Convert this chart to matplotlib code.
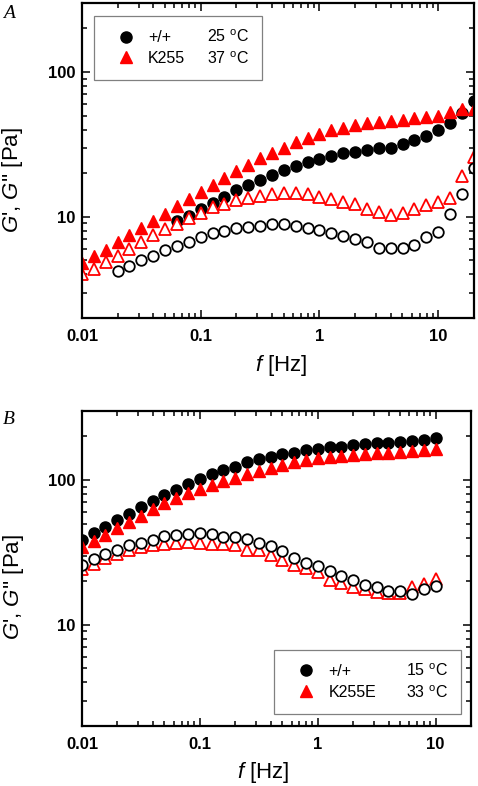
import matplotlib
matplotlib.use("Agg")
import matplotlib.pyplot as plt
from matplotlib.lines import Line2D
from matplotlib.ticker import LogLocator, NullFormatter

plt.rcParams['font.family'] = ['Liberation Sans', 'DejaVu Sans']
plt.rcParams['mathtext.fontset'] = 'custom'
plt.rcParams['mathtext.rm'] = 'Liberation Sans'
plt.rcParams['mathtext.it'] = 'Liberation Sans:italic'

# frequencies (Hz), 10 points per decade
freq = [0.01, 0.0126, 0.0158, 0.02, 0.0251, 0.0316, 0.0398, 0.0501, 0.0631, 0.0794,
        0.1, 0.126, 0.158, 0.2, 0.251, 0.316, 0.398, 0.501, 0.631, 0.794,
        1.0, 1.26, 1.58, 2.0, 2.51, 3.16, 3.98, 5.01, 6.31, 7.94,
        10.0, 12.6, 15.8, 19.95]

# panel A: +/+ at 25 C, K255 at 37 C
a_wt_g1 = [9.4, 10.2, 11.3, 12.4, 13.7, 15.4, 16.6, 18.0, 19.4, 21.0, 22.5, 23.8, 25.1,
           26.4, 27.5, 28.1, 29.0, 29.7, 30.1, 31.8, 33.9, 35.9, 39.7, 44.2, 51.9, 63.4]
a_wt_g2 = [4.24, 4.6, 5.05, 5.4, 5.9, 6.3, 6.7, 7.2, 7.7, 8.0, 8.4, 8.5, 8.7, 8.9, 8.9, 8.7,
           8.4, 8.1, 7.7, 7.35, 7.0, 6.65, 6.1, 6.1, 6.1, 6.4, 7.2, 7.9, 10.4, 14.4, 21.9]
a_mut_g1 = [4.8, 5.4, 5.9, 6.7, 7.5, 8.4, 9.4, 10.4, 11.8, 13.2, 14.9, 16.6, 18.6, 20.6,
            22.8, 25.3, 27.5, 30.1, 32.7, 35.1, 37.3, 39.7, 41.2, 42.8, 44.2, 45.4, 46.1,
            46.9, 48.0, 48.7, 49.9, 52.6, 55.5, 56.0]
a_mut_g2 = [4.0, 4.35, 4.9, 5.4, 6.0, 6.7, 7.5, 8.3, 8.9, 9.8, 10.7, 11.6, 12.3, 13.0,
            13.4, 14.0, 14.4, 14.6, 14.6, 14.4, 13.8, 13.3, 12.7, 12.2, 11.4, 10.8, 10.3,
            10.7, 11.3, 12.1, 12.7, 13.4, 19.2, 25.7]

# panel B: +/+ at 15 C, K255E at 33 C
b_wt_g1 = [38.8, 43.2, 47.5, 52.8, 58.1, 64.7, 71.9, 78.8, 85.3, 93.4, 101, 110, 117, 124,
           133, 139, 145, 151, 155, 161, 164, 169, 170, 174, 177, 180, 181, 183, 186, 189, 194]
b_wt_g2 = [26.0, 28.4, 30.7, 32.7, 35.5, 37.0, 38.8, 41.1, 41.6, 42.3, 43.2, 42.3, 40.5, 40.5,
           39.2, 36.6, 35.2, 32.4, 29.1, 26.8, 25.4, 23.6, 21.6, 20.4, 18.7, 18.3, 17.2, 17.2,
           16.4, 17.8, 18.5]
b_mut_g1 = [34.5, 37.8, 41.6, 46.7, 51.4, 56.3, 62.7, 69, 74.7, 80.9, 87.1, 91.9, 98.9, 104,
            110, 116, 122, 127, 134, 138, 141, 144, 147, 149, 151, 153, 155, 157, 159, 161, 165]
b_mut_g2 = [24.5, 26.5, 29.1, 30.7, 33.1, 34.5, 35.8, 36.4, 36.8, 37.4, 36.8, 36.4, 36.0, 35.6,
            33.0, 32.7, 30.4, 28.0, 26.0, 24.6, 23.0, 20.3, 19.6, 18.2, 17.6, 16.8, 16.6, 16.6,
            18.2, 19.2, 20.8]

panels = [
    {"letter": "A", "rect": [0.1715, 0.5954, 0.820, 0.4008],
     "wt_g1": (freq[8:], a_wt_g1), "wt_g2": (freq[3:], a_wt_g2),
     "mut_g1": (freq, a_mut_g1), "mut_g2": (freq, a_mut_g2),
     "labels": ["+/+", "K255", "25 $^{\\mathrm{o}}$C", "37 $^{\\mathrm{o}}$C"],
     "leg_loc": "upper left", "leg_anchor": (0.031, 0.959), "colspace": -1.2,
     "ylab": (-0.145, 0.438), "xlab": (0.508, -0.111), "letter_y": 1 - 5 / 786},
    {"letter": "B", "rect": [0.1715, 0.0763, 0.814, 0.4008],
     "wt_g1": (freq[:31], b_wt_g1), "wt_g2": (freq[:31], b_wt_g2),
     "mut_g1": (freq[:31], b_mut_g1), "mut_g2": (freq[:31], b_mut_g2),
     "labels": ["+/+", "K255E", "15 $^{\\mathrm{o}}$C", "33 $^{\\mathrm{o}}$C"],
     "leg_loc": "lower right", "leg_anchor": (0.974, 0.038), "colspace": -0.7,
     "ylab": (-0.145, 0.441), "xlab": (0.465, -0.108), "letter_y": 1 - 411 / 786},
]

fig = plt.figure(figsize=(4.78, 7.86), dpi=100)

for p in panels:
    ax = fig.add_axes(p["rect"])
    ax.plot(*p["wt_g1"], linestyle='none', marker='o', ms=8, color='k', mec='k')
    ax.plot(*p["mut_g1"], linestyle='none', marker='^', ms=8.5, color='red', mec='red')
    ax.plot(*p["mut_g2"], linestyle='none', marker='^', ms=8.5, mfc='white', mec='red', mew=1.3)
    ax.plot(*p["wt_g2"], linestyle='none', marker='o', ms=7.6, mfc='white', mec='k', mew=1.3)

    ax.set_xscale('log')
    ax.set_yscale('log')
    ax.set_xlim(0.01, 20)
    ax.set_ylim(2, 300)
    ax.set_xticks([0.01, 0.1, 1, 10], ['0.01', '0.1', '1', '10'])
    ax.set_yticks([10, 100], ['10', '100'])
    ax.xaxis.set_minor_locator(LogLocator(base=10, subs=range(2, 10)))
    ax.yaxis.set_minor_locator(LogLocator(base=10, subs=range(2, 10)))
    ax.xaxis.set_minor_formatter(NullFormatter())
    ax.yaxis.set_minor_formatter(NullFormatter())
    ax.tick_params(which='both', direction='in', top=True, right=True, width=1.1)
    ax.tick_params(which='major', length=6)
    ax.tick_params(which='minor', length=3.5)
    ax.tick_params(axis='x', which='major', pad=8)
    ax.tick_params(axis='y', which='major', pad=5)
    for lab in ax.get_xticklabels() + ax.get_yticklabels():
        lab.set_fontweight('bold')
        lab.set_fontsize(12)
    for s in ax.spines.values():
        s.set_linewidth(1.6)

    ax.set_ylabel("$\\mathit{G}$', $\\mathit{G}$'' [Pa]", fontsize=16)
    ax.set_xlabel("$\\mathit{f}$ [Hz]", fontsize=16)
    ax.yaxis.set_label_coords(*p["ylab"])
    ax.xaxis.set_label_coords(*p["xlab"])

    blank = Line2D([], [], linestyle='none')
    h1 = Line2D([], [], linestyle='none', marker='o', ms=8, color='k')
    h2 = Line2D([], [], linestyle='none', marker='^', ms=8.5, color='red')
    leg = ax.legend([h1, h2, blank, blank], p["labels"], ncol=2, loc=p["leg_loc"],
                    bbox_to_anchor=p["leg_anchor"], borderaxespad=0, fontsize=11.5,
                    handlelength=2.4, handletextpad=0.18, columnspacing=p["colspace"],
                    borderpad=0.8, labelspacing=0.35, fancybox=False, framealpha=1)
    leg.get_frame().set_edgecolor('#808080')
    leg.get_frame().set_linewidth(0.9)

    fig.text(3 / 478, p["letter_y"], p["letter"], family='Liberation Serif',
             style='italic', fontsize=14, va='top', ha='left')

fig.savefig("out.png", dpi=100)
